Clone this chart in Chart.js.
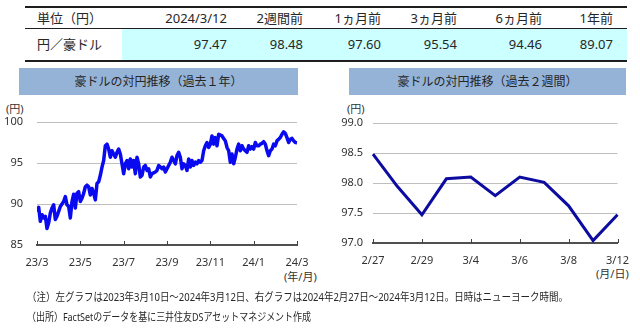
<!DOCTYPE html>
<html>
<head>
<meta charset="utf-8">
<script src="https://cdn.jsdelivr.net/npm/chart.js@4.4.1/dist/chart.umd.min.js"></script>
<style>
  body { margin: 0; background: #fff; }
  #page { position: relative; width: 640px; height: 329px; overflow: hidden;
          font-family: "Noto Sans", "Noto Sans CJK JP", sans-serif; color: #262626; }
  .abs { position: absolute; white-space: nowrap; }
  .rule { position: absolute; background: #1e1e1e; }
  .cell { position: absolute; font-size: 13px; line-height: 16px; white-space: nowrap; }
  .title { position: absolute; background: #95b3d7; font-size: 12px; line-height: 27px; text-align: center; }
  .small { font-size: 11px; line-height: 13px; color: #333; }
  .note { font-size: 11px; line-height: 14px; transform-origin: 0 50%; }
  canvas { position: absolute; }
</style>
</head>
<body>
<div id="page">
  <div class="rule" style="left:25px;top:6px;width:602px;height:2px"></div>
  <div style="position:absolute;left:122px;top:29px;width:505px;height:31px;background:#ccffff"></div>
  <div class="rule" style="left:25px;top:28px;width:602px;height:1px"></div>
  <div class="rule" style="left:25px;top:60px;width:602px;height:2px"></div>
  <div id="table"></div>

  <div class="title" style="left:19px;top:68px;width:279px;height:27px">豪ドルの対円推移（過去１年）</div>
  <div class="title" style="left:349px;top:68px;width:277px;height:27px">豪ドルの対円推移（過去２週間）</div>

  <div class="abs small" style="left:6px;top:102px">(円)</div>
  <div class="abs small" style="left:284px;top:270px">(年/月)</div>
  <div class="abs small" style="left:347px;top:102px">(円)</div>
  <div class="abs small" style="left:596px;top:267px">(月/日)</div>

  <canvas id="leftChart" width="320" height="190" style="left:0;top:100px"></canvas>
  <canvas id="rightChart" width="320" height="190" style="left:320px;top:100px"></canvas>

  <div class="abs note" id="note1" style="left:27px;top:290px" data-w="541">（注）左グラフは2023年3月10日～2024年3月12日、右グラフは2024年2月27日～2024年3月12日。日時はニューヨーク時間。</div>
  <div class="abs note" id="note2" style="left:27px;top:310px" data-w="284">（出所）FactSetのデータを基に三井住友DSアセットマネジメント作成</div>
</div>

<script>
// summary table
var tableHeaders = ['2024/3/12', '2週間前', '1ヵ月前', '3ヵ月前', '6ヵ月前', '1年前'];
var tableValues = [97.47, 98.48, 97.60, 95.54, 94.46, 89.07];

// past year, roughly every third trading day (2023/3/10 - 2024/3/12)
var yearTickLabels = ['23/3', '23/5', '23/7', '23/9', '23/11', '24/1', '24/3'];
var yearValues = [
    89.07, 89.6, 87.9, 88.7, 88.3, 88.5, 87.0, 87.7, 88.9, 89.5,
    89.9, 88.1, 88.5, 89.1, 89.7, 90.0, 90.3, 90.9, 89.9, 89.7,
    88.3, 90.3, 91.2, 89.5, 91.3, 91.5, 90.3, 90.7, 91.3, 92.1,
    92.3, 92.1, 91.1, 91.9, 91.3, 90.5, 92.5, 92.7, 93.5, 94.5,
    95.3, 97.1, 97.3, 96.7, 95.7, 96.5, 96.1, 95.7, 96.3, 96.7,
    96.1, 94.9, 93.7, 94.9, 95.3, 94.3, 95.5, 94.5, 95.3, 93.7,
    95.7, 94.9, 93.3, 93.5, 94.5, 94.7, 94.1, 94.3, 93.3, 93.7,
    93.8, 93.9, 94.1, 94.7, 94.5, 94.3, 94.5, 93.9, 94.3, 94.7,
    95.1, 95.7, 95.3, 94.9, 95.9, 96.3, 95.7, 94.3, 94.9, 94.7,
    94.1, 95.5, 94.5, 95.3, 94.7, 95.1, 94.9, 95.3, 95.1, 95.3,
    96.5, 97.1, 97.5, 96.9, 97.3, 98.3, 97.3, 98.1, 97.1, 98.5,
    98.4, 98.3, 98.0, 97.7, 96.9, 96.5, 95.1, 96.1, 94.9, 95.7,
    96.7, 97.3, 96.5, 97.1, 96.7, 96.5, 96.3, 97.1, 96.7, 97.0,
    96.7, 97.5, 97.1, 97.1, 97.3, 97.4, 97.6, 97.3, 96.5, 95.9,
    96.5, 96.7, 97.3, 97.1, 97.7, 97.9, 98.1, 98.5, 98.8, 98.6,
    98.1, 97.5, 97.9, 98.0, 97.7, 97.5, 97.47
];

// past two weeks
var weekDates = ['2/27', '2/28', '2/29', '3/1', '3/4', '3/5', '3/6', '3/7', '3/8', '3/11', '3/12'];
var weekTickLabels = ['2/27', '2/29', '3/4', '3/6', '3/8', '3/12'];
var weekValues = [98.48, 97.94, 97.47, 98.07, 98.10, 97.79, 98.10, 98.01, 97.62, 97.04, 97.47];

// table cells
var colRight = [227, 303, 381, 457, 542, 613];
var table = document.getElementById('table');
function addCell(text, left, right, top) {
    var d = document.createElement('div');
    d.className = 'cell';
    d.textContent = text;
    d.style.top = top + 'px';
    if (right != null) { d.style.right = (640 - right) + 'px'; } else { d.style.left = left + 'px'; }
    table.appendChild(d);
}
addCell('単位（円）', 37, null, 10);
addCell('円／豪ドル', 37, null, 36);
tableHeaders.forEach(function (h, i) {
    addCell(h, null, colRight[i], 10);
    addCell(tableValues[i].toFixed(2), null, colRight[i], 36);
});

// squeeze the footnotes to their line width
['note1', 'note2'].forEach(function (id) {
    var el = document.getElementById(id);
    var w = el.getBoundingClientRect().width;
    el.style.transform = 'scaleX(' + (el.dataset.w / w) + ')';
});

Chart.defaults.font.family = '"Noto Sans", "Noto Sans CJK JP", sans-serif';
Chart.defaults.font.size = 11;
Chart.defaults.color = '#333';

// short tick marks standing on the x axis
var tickMarks = {
    id: 'tickMarks',
    afterDraw: function (chart) {
        var x = chart.scales.x, ctx = chart.ctx, b = chart.chartArea.bottom;
        ctx.save();
        ctx.strokeStyle = '#404040';
        ctx.lineWidth = 1;
        x.ticks.forEach(function (t, i) {
            if (t.label === '') return;
            var px = Math.round(x.getPixelForTick(i)) + 0.5;
            ctx.beginPath();
            ctx.moveTo(px, b - 4);
            ctx.lineTo(px, b);
            ctx.stroke();
        });
        ctx.restore();
    }
};

function hideBase(base) {
    return function (c) { return c.tick && c.tick.value === base ? 'rgba(0,0,0,0)' : '#bfbfbf'; };
}

new Chart(document.getElementById('leftChart'), {
    type: 'line',
    data: {
        datasets: [{
            data: yearValues.map(function (v, i) { return { x: i, y: v }; }),
            borderColor: '#0a0af0',
            borderWidth: 3.5,
            borderJoinStyle: 'round',
            pointRadius: 0,
            tension: 0
        }]
    },
    options: {
        responsive: false,
        animation: false,
        layout: { padding: { top: 22, right: 23, left: 0, bottom: 0 } },
        plugins: { legend: { display: false }, tooltip: { enabled: false } },
        scales: {
            x: {
                type: 'linear',
                min: 0,
                max: yearValues.length - 1,
                afterBuildTicks: function (scale) {
                    var step = (yearValues.length - 1) / (yearTickLabels.length - 1);
                    scale.ticks = yearTickLabels.map(function (l, i) { return { value: i * step }; });
                },
                afterFit: function (scale) { scale.height = 45; },
                ticks: {
                    padding: 11,
                    maxRotation: 0,
                    callback: function (v, i) { return yearTickLabels[i]; }
                },
                grid: { display: false, drawTicks: false },
                border: { display: true, color: '#505050', width: 2 }
            },
            y: {
                min: 85,
                max: 100,
                afterFit: function (scale) { scale.width = 37; },
                ticks: { stepSize: 5, padding: 14 },
                grid: { color: hideBase(85), drawTicks: false },
                border: { display: false }
            }
        }
    },
    plugins: [tickMarks]
});

new Chart(document.getElementById('rightChart'), {
    type: 'line',
    data: {
        labels: weekDates,
        datasets: [{
            data: weekValues,
            borderColor: '#0c0ca0',
            borderWidth: 3,
            pointRadius: 0,
            tension: 0
        }]
    },
    options: {
        responsive: false,
        animation: false,
        layout: { padding: { top: 23, right: 18, left: 0, bottom: 0 } },
        plugins: { legend: { display: false }, tooltip: { enabled: false } },
        scales: {
            x: {
                offset: false,
                afterFit: function (scale) { scale.height = 47; },
                ticks: {
                    padding: 11,
                    autoSkip: false,
                    maxRotation: 0,
                    callback: function (v, i) {
                        var d = weekDates[i];
                        return weekTickLabels.indexOf(d) >= 0 ? d : '';
                    }
                },
                grid: { display: false, drawTicks: false },
                border: { display: true, color: '#505050', width: 2 }
            },
            y: {
                min: 97,
                max: 99,
                afterFit: function (scale) { scale.width = 53; },
                ticks: {
                    stepSize: 0.5,
                    padding: 10,
                    callback: function (v) { return v.toFixed(1); }
                },
                grid: { color: hideBase(97), drawTicks: false },
                border: { display: false }
            }
        }
    },
    plugins: [tickMarks]
});
</script>
</body>
</html>
